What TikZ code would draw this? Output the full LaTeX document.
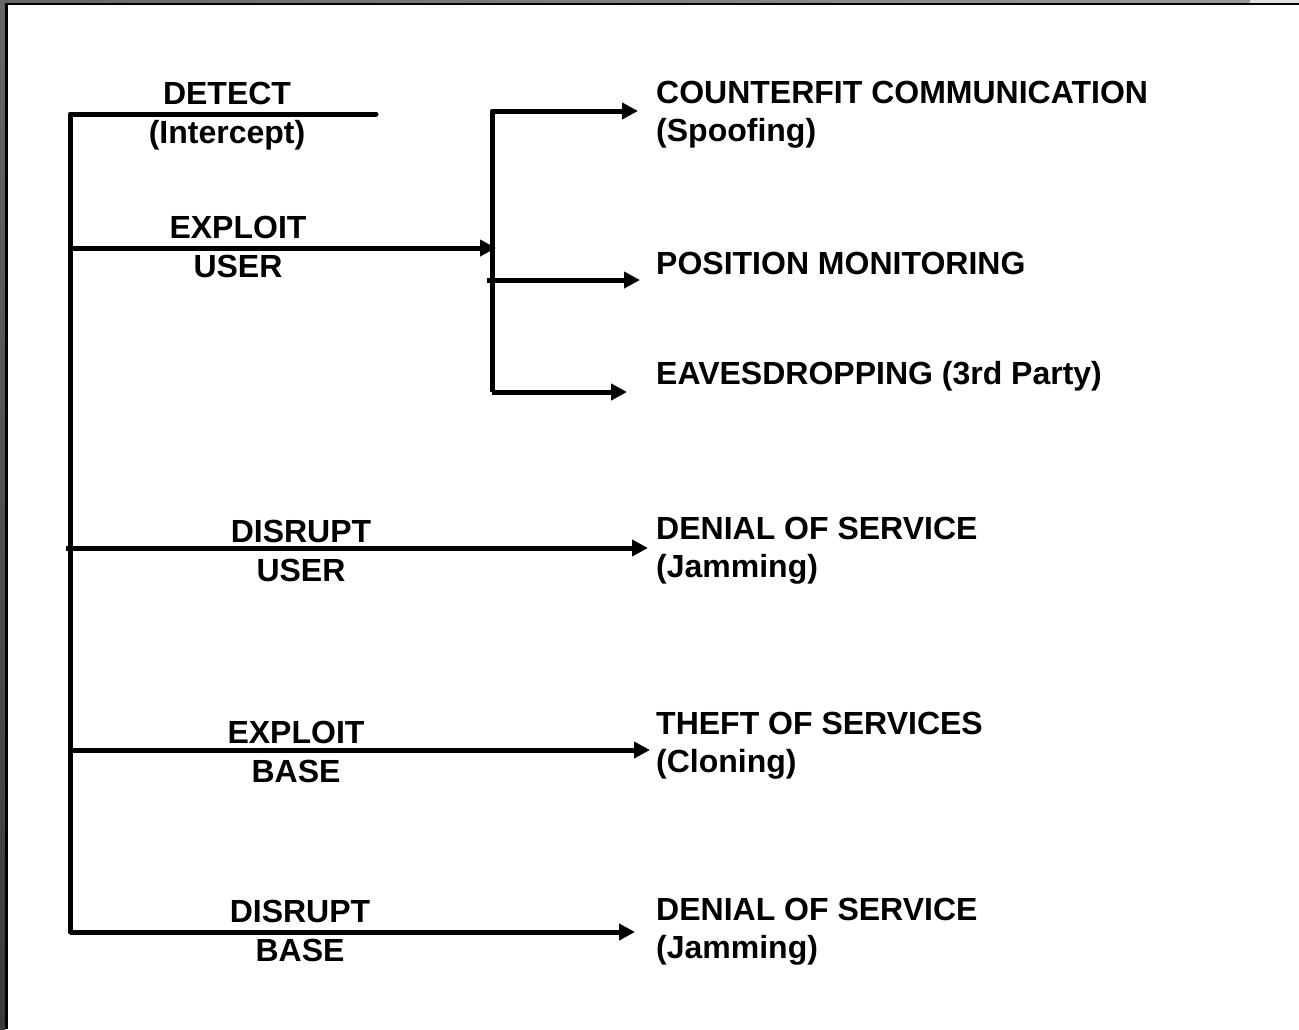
\documentclass[tikz,border=0pt]{standalone}
\usepackage{fontspec}
\setmainfont{Liberation Sans}
\usetikzlibrary{arrows.meta}
\definecolor{bandA}{HTML}{666666}
\definecolor{bandB}{HTML}{9A9A9A}
\definecolor{bandC}{HTML}{E2E2E2}
\definecolor{bandD}{HTML}{3A3A3A}
\begin{document}
\begin{tikzpicture}[x=1pt,y=-1pt,
  wire/.style={line width=5pt},
  arr/.style={wire,-{Triangle[length=16pt,width=16pt]}},
  lbl/.style={font=\fontsize{32}{38.5}\selectfont\bfseries, inner sep=0pt, align=center, anchor=base},
  res/.style={font=\fontsize{32}{38}\selectfont\bfseries, inner sep=0pt, align=left, anchor=base west}]
\useasboundingbox (0,0) rectangle (1299,1029);
\fill[white] (0,0) rectangle (1299,1029);

% window frame: grey bands with a black inner edge
\shade[left color=bandA, right color=bandB] (0,0) rectangle (1250,3);
\fill[bandC] (1250,0) rectangle (1299,3);
\shade[top color=bandA, bottom color=bandD] (0,0) rectangle (5,1029);
\fill[black] (5,3) rectangle (1299,5);
\fill[black] (5,3) rectangle (8,1029);

% left-hand action labels (anchored on the baseline of the last line)
\node[lbl] (detect)  at (227,143) {DETECT\\(Intercept)};
\node[lbl] (expuser) at (238,277) {EXPLOIT\\USER};
\node[lbl] (disuser) at (301,581) {DISRUPT\\USER};
\node[lbl] (expbase) at (296,782) {EXPLOIT\\BASE};
\node[lbl] (disbase) at (300,961) {DISRUPT\\BASE};

% right-hand outcomes
\node[res] (spoof)   at (656,141) {COUNTERFIT COMMUNICATION\\(Spoofing)};
\node[res] (posmon)  at (656,274) {POSITION MONITORING};
\node[res] (eaves)   at (656,384) {EAVESDROPPING (3rd Party)};
\node[res] (dosuser) at (656,577) {DENIAL OF SERVICE\\(Jamming)};
\node[res] (theft)   at (656,772) {THEFT OF SERVICES\\(Cloning)};
\node[res] (dosbase) at (656,958) {DENIAL OF SERVICE\\(Jamming)};

% junction points on the trunk and the branch bar
\coordinate (trunkTop) at (70,114);
\coordinate (detectEnd) at (376,114);
\coordinate (trunkEU) at (70,248);
\coordinate (trunkDU) at (66,548);
\coordinate (trunkEB) at (70,750);
\coordinate (trunkBot) at (70,932);
\coordinate (barIn) at (496,248);
\coordinate (barTop) at (492,111);
\coordinate (barMid) at (487,280);
\coordinate (barBot) at (492,392);

% arrow tips in front of the outcomes
\coordinate (tipSpoof) at (638,111);
\coordinate (tipPos) at (640,280);
\coordinate (tipEaves) at (627,392);
\coordinate (tipDU) at (648,548);
\coordinate (tipEB) at (650,750);
\coordinate (tipDB) at (635,932);

% trunk with the detect stub and the bottom branch
\draw[wire, line cap=round, line join=round] (detectEnd) -- (trunkTop) -- (trunkBot);
\draw[arr, line join=round] (trunkTop |- trunkBot) -- (tipDB);

% exploit user into the branch bar
\draw[arr] (trunkEU) -- (barIn);
\draw[arr, line join=round] (barBot -| barTop) -- (barTop) -- (tipSpoof);
\draw[arr, line join=round] (barTop |- barBot) -- (tipEaves);
\draw[arr] (barMid) -- (tipPos);

% remaining branches from the trunk
\draw[arr] (trunkDU) -- (tipDU);
\draw[arr] (trunkEB) -- (tipEB);
\end{tikzpicture}
\end{document}
